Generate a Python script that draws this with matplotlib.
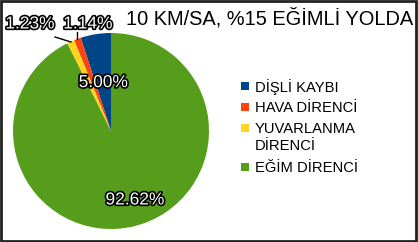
import matplotlib
matplotlib.use("Agg")
import matplotlib.pyplot as plt
import matplotlib.patheffects as pe
from matplotlib.patches import Rectangle

plt.rcParams['font.family'] = ['Liberation Sans', 'DejaVu Sans']

title = '10 KM/SA, %15 EĞİMLİ YOLDA'
labels = ['DİŞLİ KAYBI', 'HAVA DİRENCİ', 'YUVARLANMA\nDİRENCİ', 'EĞİM DİRENCİ']
values = [5.00, 1.14, 1.23, 92.62]
colors = ['#004586', '#ff420e', '#ffd320', '#579d1c']

W, H = 418, 242
fig = plt.figure(figsize=(W / 100, H / 100), dpi=100)
ax = fig.add_axes([0, 0, 1, 1])

outline = [pe.withStroke(linewidth=2.4, foreground='black')]

wedges, texts, autotexts = ax.pie(values, colors=colors, startangle=90, counterclock=True,
                                  center=(111, 111), radius=98, autopct='%.2f%%',
                                  pctdistance=0.5, frame=True,
                                  textprops=dict(color='white', fontsize=12.5))
for t, v in zip(autotexts, values):
    t.set_text('%.2f%%' % v)
    t.set_path_effects(outline)
    t.set_ha('center')
    t.set_va('center')

# big slice label sits lower
autotexts[3].set_position((135, 42))
# small slices: labels outside with leader lines
autotexts[1].set_position((88, 218))
autotexts[2].set_position((30, 218))
ax.plot([77, 77], [210, 203], color='black', lw=1)
ax.plot([55, 71], [205, 200], color='black', lw=1)

ax.set_xlim(0, W)
ax.set_ylim(0, H)
ax.set_aspect('equal')
ax.axis('off')

ax.text(126, H - 18, title, fontsize=14.4, ha='left', va='center')

# legend, drawn by hand so the square sits on the first line
y = H - 86
for lab, c in zip(labels, colors):
    ax.add_patch(Rectangle((241, y - 4), 8, 8, facecolor=c, edgecolor='none'))
    lines = lab.split('\n')
    for i, line in enumerate(lines):
        ax.text(255, y - 17.5 * i - 1, line, fontsize=10.6, ha='left', va='center')
    y -= 21 + 17.5 * (len(lines) - 1)

fig.patches.append(Rectangle((0.003, 0.004), 0.993, 0.992, transform=fig.transFigure,
                             fill=False, edgecolor='#222222', lw=2))

fig.savefig('out.png', dpi=100)
